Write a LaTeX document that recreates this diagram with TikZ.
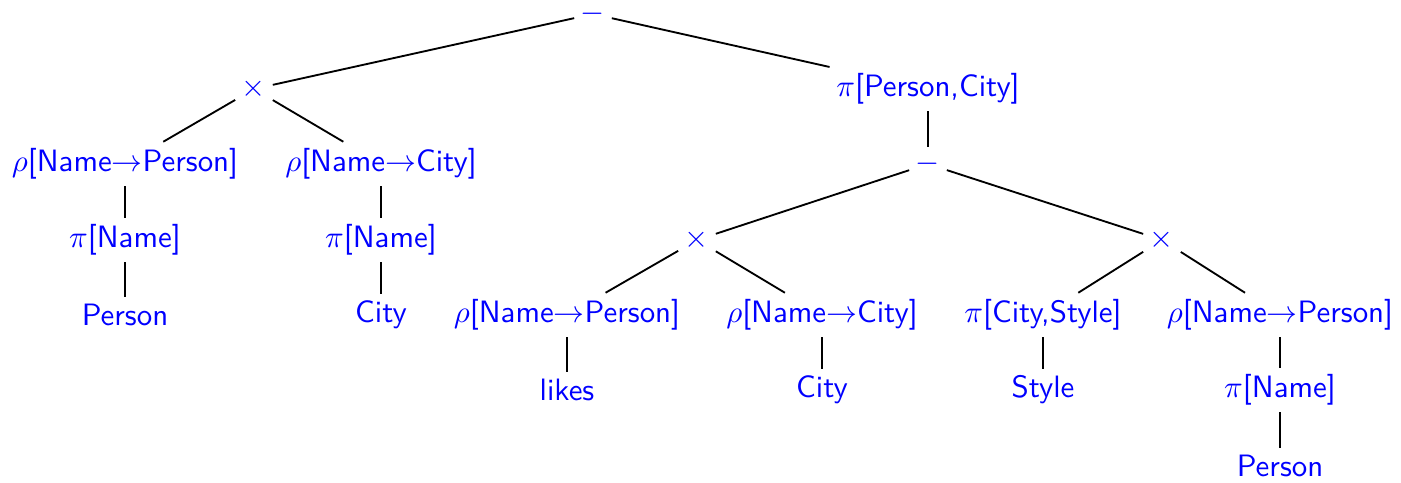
\documentclass[tikz,border=0pt]{standalone}
\usepackage{fontspec}
\begin{document}
\begin{tikzpicture}[x=0.3236pt,y=-0.3236pt,
  op/.style={text=blue,font=\sffamily,inner sep=2pt},
  link/.style={draw=black,line width=0.6pt}]
\useasboundingbox (0,0) rectangle (1401,483);
\def\yA{14}\def\yB{89}\def\yC{164}\def\yD{240}\def\yE{315}\def\yF{390}\def\yG{466}
% operators and relations
\node[op,inner ysep=0pt] (r) at (593,\yA) {$-$};
\node[op] (x1)    at (254,\yB)  {$\times$};
\node[op] (pPC)   at (928,\yB)  {$\pi$[Person,City]};
\node[op] (rhoP1) at (125,\yC)  {$\rho$[Name$\rightarrow$Person]};
\node[op] (rhoC1) at (381,\yC)  {$\rho$[Name$\rightarrow$City]};
\node[op] (m2)    at (928,\yC)  {$-$};
\node[op] (pN1)   at (125,\yD)  {$\pi$[Name]};
\node[op] (pN2)   at (381,\yD)  {$\pi$[Name]};
\node[op] (x2)    at (697,\yD)  {$\times$};
\node[op] (x3)    at (1162,\yD) {$\times$};
\node[op] (per1)  at (125,\yE)  {Person};
\node[op] (city1) at (381,\yE)  {City};
\node[op] (rhoP2) at (567,\yE)  {$\rho$[Name$\rightarrow$Person]};
\node[op] (rhoC2) at (822,\yE)  {$\rho$[Name$\rightarrow$City]};
\node[op] (pCS)   at (1043,\yE) {$\pi$[City,Style]};
\node[op] (rhoP3) at (1280,\yE) {$\rho$[Name$\rightarrow$Person]};
\node[op] (likes) at (567,\yF)  {likes};
\node[op] (city2) at (822,\yF)  {City};
\node[op] (style) at (1043,\yF) {Style};
\node[op] (pN3)   at (1280,\yF) {$\pi$[Name]};
\node[op] (per3)  at (1280,\yG) {Person};
% tree edges
\draw[link] (r) -- (x1);
\draw[link] (r) -- (pPC);
\draw[link] (x1) -- (rhoP1);
\draw[link] (x1) -- (rhoC1);
\draw[link] (rhoP1) -- (pN1);
\draw[link] (pN1) -- (per1);
\draw[link] (rhoC1) -- (pN2);
\draw[link] (pN2) -- (city1);
\draw[link] (pPC) -- (m2);
\draw[link] (m2) -- (x2);
\draw[link] (m2) -- (x3);
\draw[link] (x2) -- (rhoP2);
\draw[link] (x2) -- (rhoC2);
\draw[link] (x3) -- (pCS);
\draw[link] (x3) -- (rhoP3);
\draw[link] (rhoP2) -- (likes);
\draw[link] (rhoC2) -- (city2);
\draw[link] (pCS) -- (style);
\draw[link] (rhoP3) -- (pN3);
\draw[link] (pN3) -- (per3);
\end{tikzpicture}
\end{document}
